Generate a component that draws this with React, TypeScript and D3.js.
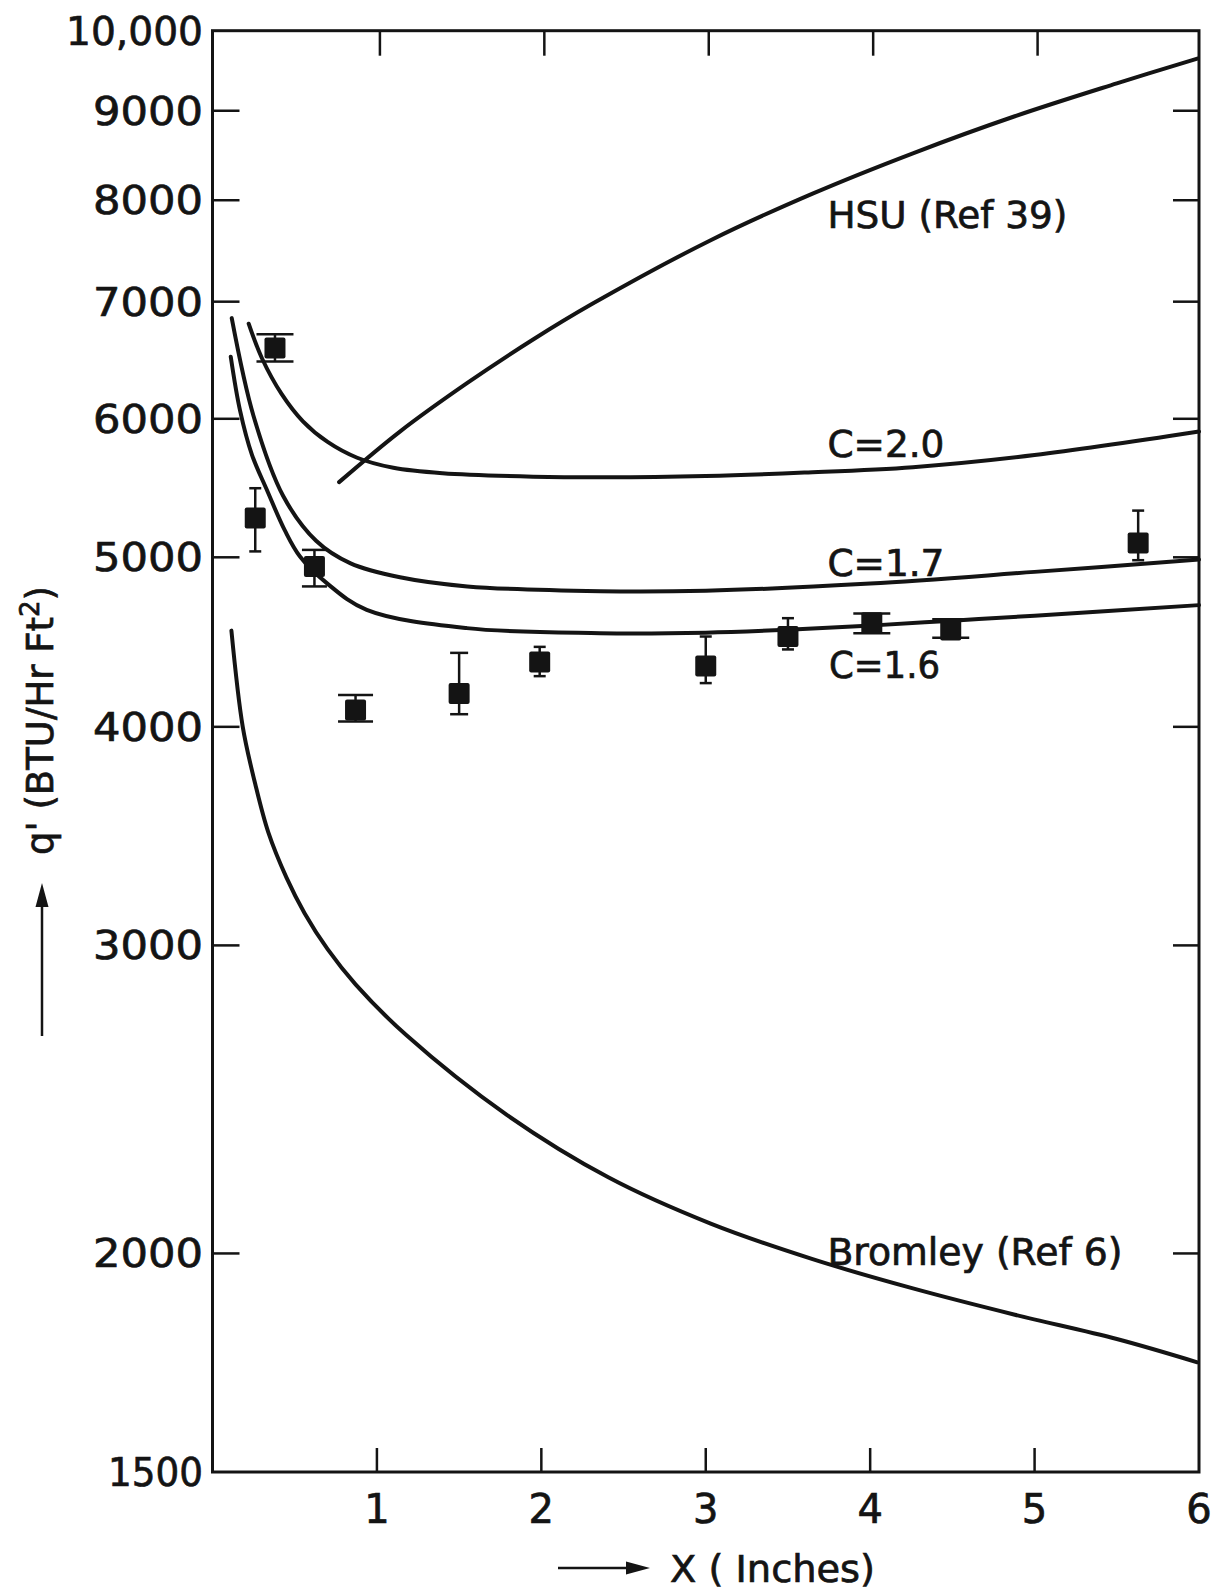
import React from "react";
import * as d3 from "d3";

// ---------- data ----------
const hsuX = [0.77, 1.14, 1.55, 1.95, 2.31, 3.03, 3.65, 4.26, 4.88, 5.5, 5.99];
const hsuY = [5520, 5900, 6290, 6660, 6980, 7590, 8070, 8510, 8935, 9330, 9640];

const c20X = [0.22, 0.3, 0.42, 0.55, 0.7, 0.88, 1.1, 1.4, 1.95, 2.4, 3.0, 3.6, 4.26, 5.0, 6.0];
const c20Y = [6800, 6500, 6200, 5980, 5820, 5700, 5625, 5585, 5560, 5555, 5565, 5590, 5630, 5720, 5900];

const c17X = [0.117, 0.25, 0.43, 0.63, 0.84, 1.14, 1.55, 2.36, 3.0, 4.0, 5.0, 6.0];
const c17Y = [6850, 6020, 5420, 5110, 4960, 4870, 4812, 4782, 4785, 4830, 4905, 4985];

const c16X = [0.111, 0.167, 0.24, 0.331, 0.44, 0.532, 0.695, 0.938, 1.546, 2.357, 3.0, 3.5, 4.0, 4.5, 5.0, 6.0];
const c16Y = [6511, 6069, 5722, 5463, 5180, 5005, 4833, 4666, 4555, 4525, 4528, 4545, 4570, 4600, 4630, 4695];

const bromX = [0.115, 0.184, 0.26, 0.34, 0.45, 0.56, 0.7, 0.87, 1.18, 1.79, 2.41, 3.03, 3.65, 4.26, 4.88, 5.5, 5.99];
const bromY = [4540, 4000, 3710, 3480, 3280, 3130, 2985, 2850, 2665, 2400, 2210, 2080, 1985, 1910, 1845, 1787, 1733];

const ptX = [0.38, 0.26, 0.62, 0.87, 1.5, 1.99, 3.0, 3.5, 4.01, 4.49, 5.63];
const ptY = [6585, 5265, 4940, 4090, 4180, 4357, 4333, 4505, 4588, 4544, 5095];
const ptHi = [6706, 5476, 5049, 4171, 4409, 4444, 4505, 4615, 4644, 4609, 5317];
const ptLo = [6469, 5039, 4812, 4028, 4067, 4276, 4237, 4429, 4524, 4498, 4981];
const capWidths = [37, 12, 25, 35, 18, 12, 12, 12, 37, 37, 12];

const yTickValues = [1500, 2000, 3000, 4000, 5000, 6000, 7000, 8000, 9000, 10000];
const yTickLabels = ["1500", "2000", "3000", "4000", "5000", "6000", "7000", "8000", "9000", "10,000"];
const xTickValues = [1, 2, 3, 4, 5, 6];
const xTickLabels = ["1", "2", "3", "4", "5", "6"];

const curveLabels = ["HSU (Ref 39)", "C=2.0", "C=1.7", "C=1.6", "Bromley (Ref 6)"];
const curveLabelX = [3.74, 3.74, 3.74, 3.75, 3.74];
const curveLabelY = [7714, 5705, 4880, 4266, 1970];
const curveLabelLen = [240, 117, 117, 111, 295];

// ---------- component ----------
const W = 1219;
const H = 1592;
const FONT = "'DejaVu Sans', Verdana, sans-serif";
const INK = "#141414";
const TEXT_STROKE = 0.7;

export default function App() {
  const x = d3.scaleLinear().domain([0, 6]).range([212.5, 1199]);
  const y = d3.scaleLog().domain([1500, 10000]).range([1472, 30.7]);
  const [x0, x1] = x.range();
  const [y0, y1] = y.range();

  const line = d3
    .line<[number, number]>()
    .x((d) => x(d[0]))
    .y((d) => y(d[1]))
    .curve(d3.curveCatmullRom.alpha(0.5));

  const series = [
    d3.zip(hsuX, hsuY),
    d3.zip(c20X, c20Y),
    d3.zip(c17X, c17Y),
    d3.zip(c16X, c16Y),
    d3.zip(bromX, bromY),
  ] as [number, number][][];

  const innerYTicks = yTickValues.filter((v) => v > 1500 && v < 10000);
  const innerXTicks = xTickValues.filter((v) => v < 6);

  const textProps = { fill: INK, stroke: INK, strokeWidth: TEXT_STROKE };

  return (
    <svg
      width={W}
      height={H}
      viewBox={`0 0 ${W} ${H}`}
      style={{ position: "absolute", left: 0, top: 0, background: "#fff" }}
      fontFamily={FONT}
    >
      <rect width={W} height={H} fill="#fff" />

      {/* frame */}
      <rect
        x={x0}
        y={y1}
        width={x1 - x0}
        height={y0 - y1}
        fill="none"
        stroke={INK}
        strokeWidth={3}
      />

      {/* y ticks left & right */}
      {innerYTicks.map((v) => (
        <g key={"yt" + v} stroke={INK} strokeWidth={2.5}>
          <line x1={x0} x2={x0 + 27} y1={y(v)} y2={y(v)} />
          <line x1={x1} x2={x1 - 26} y1={y(v)} y2={y(v)} />
        </g>
      ))}
      {/* x ticks bottom & top */}
      {innerXTicks.map((v) => (
        <g key={"xt" + v} stroke={INK} strokeWidth={2.5}>
          <line x1={x(v)} x2={x(v)} y1={y0} y2={y0 - 24} />
          <line x1={x(v) + 3} x2={x(v) + 3} y1={y1} y2={y1 + 25} />
        </g>
      ))}

      {/* y tick labels */}
      {yTickValues.map((v, i) => (
        <text
          key={"yl" + v}
          x={203}
          y={y(v) + 14}
          textAnchor="end"
          fontSize={39}
          {...textProps}
          textLength={v === 10000 ? 137 : v === 1500 ? 95 : 110}
          lengthAdjust="spacingAndGlyphs"
        >
          {yTickLabels[i]}
        </text>
      ))}

      {/* x tick labels */}
      {xTickValues.map((v, i) => (
        <text
          key={"xl" + v}
          x={x(v)}
          y={1523}
          textAnchor="middle"
          fontSize={40}
          {...textProps}
        >
          {xTickLabels[i]}
        </text>
      ))}

      {/* curves */}
      {series.map((s, i) => (
        <path
          key={"c" + i}
          d={line(s) || ""}
          fill="none"
          stroke={INK}
          strokeWidth={4}
          strokeLinecap="round"
        />
      ))}

      {/* curve labels */}
      {curveLabels.map((t, i) => (
        <text
          key={"lab" + i}
          x={x(curveLabelX[i])}
          y={y(curveLabelY[i])}
          fontSize={37}
          {...textProps}
          textLength={curveLabelLen[i]}
          lengthAdjust="spacingAndGlyphs"
        >
          {t}
        </text>
      ))}

      {/* data points with error bars */}
      {ptX.map((px, i) => {
        const cx = x(px);
        const cy = y(ptY[i]);
        const hi = y(ptHi[i]);
        const lo = y(ptLo[i]);
        const cw = capWidths[i];
        return (
          <g key={"p" + i} stroke={INK} strokeWidth={2.5}>
            <line x1={cx} x2={cx} y1={hi} y2={lo} />
            <line x1={cx - cw / 2} x2={cx + cw / 2} y1={hi} y2={hi} />
            <line x1={cx - cw / 2} x2={cx + cw / 2} y1={lo} y2={lo} />
            <rect
              x={cx - 10.5}
              y={cy - 10.5}
              width={21}
              height={21}
              rx={2}
              fill={INK}
              stroke="none"
            />
          </g>
        );
      })}

      {/* x axis title */}
      <g>
        <line x1={558} x2={630} y1={1568} y2={1568} stroke={INK} strokeWidth={2.5} />
        <path d="M650,1568 L626,1561.5 L626,1574.5 Z" fill={INK} />
        <text
          x={670}
          y={1582}
          fontSize={37}
          {...textProps}
          textLength={205}
          lengthAdjust="spacingAndGlyphs"
        >
          X ( Inches)
        </text>
      </g>

      {/* y axis title */}
      <g>
        <line x1={42} x2={42} y1={1036} y2={903} stroke={INK} strokeWidth={2.5} />
        <path d="M42,883 L35.5,907 L48.5,907 Z" fill={INK} />
        <text transform="translate(53,855) rotate(-90)" fontSize={37} {...textProps}>
          q' (BTU/Hr Ft
          <tspan fontSize={26} dy={-14}>
            2
          </tspan>
          <tspan dy={14}>)</tspan>
        </text>
      </g>
    </svg>
  );
}
